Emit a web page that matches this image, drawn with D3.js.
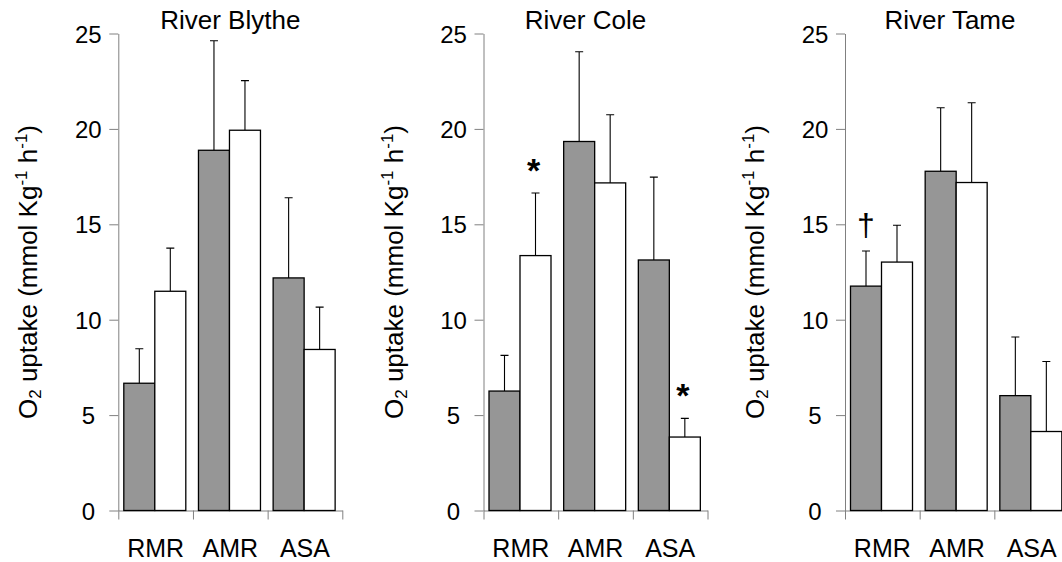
<!DOCTYPE html>
<html>
<head>
<meta charset="utf-8">
<script src="https://cdn.jsdelivr.net/npm/d3@7"></script>
<style>
  body { margin: 0; background: #fff; }
  svg { display: block; }
  text { font-family: "Liberation Sans", Arial, Helvetica, sans-serif; fill: #000; }
</style>
</head>
<body>
<svg id="chart" width="1062" height="562"></svg>
<script>
// ---- data ----
const rivers = ["River Blythe", "River Cole", "River Tame"];
const measures = ["RMR", "AMR", "ASA"];
const groups = ["grey", "white"];
const yTicks = [0, 5, 10, 15, 20, 25];

// mean O2 uptake (mmol Kg-1 h-1) for RMR, AMR, ASA
const blytheGrey  = [6.67, 18.88, 12.19];
const blytheWhite = [11.49, 19.93, 8.44];
const coleGrey    = [6.26, 19.34, 13.13];
const coleWhite   = [13.36, 17.17, 3.85];
const tameGrey    = [11.76, 17.78, 6.02];
const tameWhite   = [13.02, 17.19, 4.14];

// error (upper bar length) for RMR, AMR, ASA
const blytheGreyErr  = [1.81, 5.74, 4.20];
const blytheWhiteErr = [2.26, 2.60, 2.22];
const coleGreyErr    = [1.87, 4.70, 4.34];
const coleWhiteErr   = [3.28, 3.57, 0.98];
const tameGreyErr    = [1.84, 3.33, 3.07];
const tameWhiteErr   = [1.93, 4.18, 3.67];

// significance marks: river index, measure, group, symbol
const marks = [
  { river: 1, measure: "RMR", group: "white", symbol: "*" },
  { river: 1, measure: "ASA", group: "white", symbol: "*" },
  { river: 2, measure: "RMR", group: "grey",  symbol: "\u2020" }
];

const means = [
  { grey: blytheGrey, white: blytheWhite },
  { grey: coleGrey,   white: coleWhite },
  { grey: tameGrey,   white: tameWhite }
];
const errs = [
  { grey: blytheGreyErr, white: blytheWhiteErr },
  { grey: coleGreyErr,   white: coleWhiteErr },
  { grey: tameGreyErr,   white: tameWhiteErr }
];

// ---- layout ----
const panelLeft = [118.3, 483.5, 845];
const plotWidth = 224;
const titleShift = [0, -10, -7];
const fills = { grey: "#969696", white: "#ffffff" };
const axisColor = "#808080";

const svg = d3.select("#chart");
const y = d3.scaleLinear().domain([0, 25]).range([510.5, 33.5]);

rivers.forEach((river, i) => {
  const left = panelLeft[i];
  const g = svg.append("g");

  const x = d3.scaleBand().domain(measures).range([left, left + plotWidth]);
  const xi = d3.scaleBand().domain(groups).range([5.5, 67.5]);
  const xEdge = d3.scaleLinear().domain([0, measures.length]).range([left, left + plotWidth]);

  // y axis (tick labels centred in a column left of the ticks)
  const yAxis = g.append("g")
    .attr("transform", `translate(${left},0)`)
    .call(d3.axisLeft(y).tickValues(yTicks).tickSize(9).tickSizeOuter(0));
  yAxis.select(".domain").attr("stroke", axisColor);
  yAxis.selectAll(".tick line").attr("stroke", axisColor);
  yAxis.selectAll(".tick text")
    .attr("x", -30)
    .attr("dy", "0.36em")
    .attr("text-anchor", "middle")
    .attr("font-size", 24)
    .attr("font-family", null);

  // x axis baseline with category separators
  const xAxis = g.append("g")
    .attr("transform", `translate(0,${y(0)})`)
    .call(d3.axisBottom(xEdge).tickValues(d3.range(measures.length + 1)).tickSize(9).tickSizeOuter(0).tickFormat(""));
  xAxis.select(".domain").attr("stroke", axisColor);
  xAxis.selectAll(".tick line").attr("stroke", axisColor);

  // category labels
  g.selectAll(".cat")
    .data(measures)
    .join("text")
    .attr("x", d => x(d) + x.bandwidth() / 2)
    .attr("y", 557)
    .attr("text-anchor", "middle")
    .attr("font-size", 25)
    .text(d => d);

  // bars and error bars
  const rows = [];
  measures.forEach((m, mi) => groups.forEach(gr => {
    rows.push({ m, gr, v: means[i][gr][mi], e: errs[i][gr][mi] });
  }));
  const cx = d => x(d.m) + xi(d.gr) + xi.bandwidth() / 2;

  g.selectAll(".err")
    .data(rows)
    .join("path")
    .attr("fill", "none")
    .attr("stroke", "#000")
    .attr("stroke-width", 1.1)
    .attr("d", d => `M${cx(d)},${y(d.v)}V${y(d.v + d.e)}M${cx(d) - 4},${y(d.v + d.e)}H${cx(d) + 4}`);

  g.selectAll(".bar")
    .data(rows)
    .join("rect")
    .attr("x", d => x(d.m) + xi(d.gr))
    .attr("width", xi.bandwidth())
    .attr("y", d => y(d.v))
    .attr("height", d => y(0) - y(d.v))
    .attr("fill", d => fills[d.gr])
    .attr("stroke", "#000")
    .attr("stroke-width", 1.3);

  // significance marks
  g.selectAll(".mark")
    .data(marks.filter(mk => mk.river === i))
    .join("text")
    .attr("x", mk => cx({ m: mk.measure, gr: mk.group }) - (mk.symbol === "*" ? 2 : 0))
    .attr("y", mk => {
      const mi = measures.indexOf(mk.measure);
      const top = y(means[i][mk.group][mi] + errs[i][mk.group][mi]);
      return mk.symbol === "*" ? top - 11 : top - 15;
    })
    .attr("text-anchor", "middle")
    .attr("font-size", mk => mk.symbol === "*" ? 34 : 32)
    .attr("font-weight", mk => mk.symbol === "*" ? "bold" : "normal")
    .text(mk => mk.symbol);

  // panel title
  g.append("text")
    .attr("x", left + plotWidth / 2 + titleShift[i])
    .attr("y", 29)
    .attr("text-anchor", "middle")
    .attr("font-size", 26)
    .text(river);

  // y axis title: O2 uptake (mmol Kg-1 h-1)
  const yt = g.append("text")
    .attr("transform", `translate(${left - 81},${(y(0) + y(25)) / 2}) rotate(-90)`)
    .attr("text-anchor", "middle")
    .attr("font-size", 26);
  yt.append("tspan").text("O");
  yt.append("tspan").attr("font-size", 17).attr("dy", 4).text("2");
  yt.append("tspan").attr("dy", -4).text(" uptake (mmol Kg");
  yt.append("tspan").attr("font-size", 17).attr("dy", -10).text("-1");
  yt.append("tspan").attr("dy", 10).text(" h");
  yt.append("tspan").attr("font-size", 17).attr("dy", -10).text("-1");
  yt.append("tspan").attr("dy", 10).text(")");
});
</script>
</body>
</html>
